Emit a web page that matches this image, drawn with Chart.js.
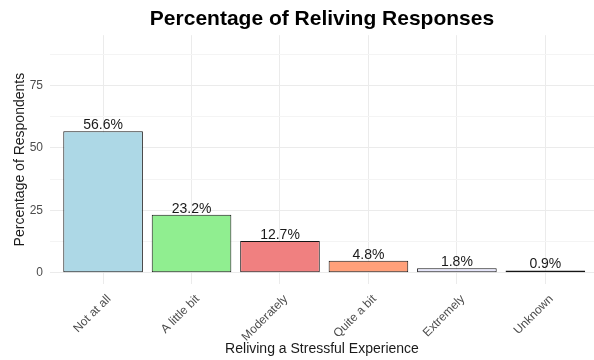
<!DOCTYPE html>
<html>
<head>
<meta charset="utf-8">
<script src="https://cdn.jsdelivr.net/npm/chart.js@4/dist/chart.umd.min.js"></script>
<style>
  html, body { margin: 0; padding: 0; background: #ffffff; }
  #wrap { width: 594px; height: 360px; position: relative; }
</style>
</head>
<body>
<div id="wrap"><canvas id="c"></canvas></div>
<script>
// Response categories and their share of respondents (%)
const categories = ["Not at all", "A little bit", "Moderately", "Quite a bit", "Extremely", "Unknown"];
const percentages = [56.6, 23.2, 12.7, 4.8, 1.8, 0.9];
const barColors = ["#ADD8E6", "#90EE90", "#F08080", "#FFA07A", "#E6E6FA", "#D3D3D3"];
const yTickValues = [0, 25, 50, 75];
const yGridValues = [0, 12.5, 25, 37.5, 50, 62.5, 75, 87.5];

const FONT = '"Liberation Sans", Arial, sans-serif';

// Upper limit is 1.6x the largest share, then padded by 5% on both ends
const yUpper = Math.max(...percentages) * 1.6;
const yPad = yUpper * 0.05;

// Percent label above each bar
const valueLabels = {
  id: 'valueLabels',
  afterDatasetsDraw(chart) {
    const { ctx } = chart;
    const meta = chart.getDatasetMeta(0);
    ctx.save();
    ctx.font = '14px ' + FONT;
    ctx.fillStyle = '#1a1a1a';
    ctx.textAlign = 'center';
    ctx.textBaseline = 'alphabetic';
    meta.data.forEach((bar, i) => {
      ctx.fillText(percentages[i].toFixed(1) + '%', bar.x, bar.y - 2);
    });
    ctx.restore();
  }
};

// Slant the category labels so their upper end hangs just right of the tick
const labelNudge = {
  id: 'labelNudge',
  beforeDraw(chart) {
    const items = chart.scales.x.getLabelItems(chart.chartArea);
    items.forEach(it => {
      if (!it._nudged) {
        it.options.translation[0] += 6;
        it._nudged = true;
      }
    });
  }
};

new Chart(document.getElementById('c'), {
  type: 'bar',
  data: {
    datasets: [{
      data: percentages.map((v, i) => ({ x: i, y: v })),
      backgroundColor: barColors,
      borderColor: '#151515',
      borderWidth: 1,
      borderSkipped: false,
      barPercentage: 0.9,
      categoryPercentage: 1.0
    }]
  },
  options: {
    responsive: true,
    maintainAspectRatio: false,
    animation: false,
    devicePixelRatio: 1,
    layout: { padding: { left: 0, right: 0, top: 0, bottom: 0 } },
    plugins: {
      legend: { display: false },
      tooltip: { enabled: false },
      title: {
        display: true,
        fullSize: false,
        text: 'Percentage of Reliving Responses',
        color: '#000000',
        font: { family: FONT, size: 21, weight: 'bold' },
        padding: { top: 7, bottom: 3 }
      }
    },
    scales: {
      x: {
        type: 'linear',
        offset: false,
        min: -0.6,
        max: 5.55,
        afterBuildTicks: axis => { axis.ticks = categories.map((_, i) => ({ value: i })); },
        afterFit: scale => { scale.height = 76; },
        border: { display: false },
        grid: { color: '#EBEBEB', lineWidth: 1, drawTicks: false, offset: false },
        ticks: {
          autoSkip: false,
          minRotation: 45,
          maxRotation: 45,
          padding: 8,
          color: '#4D4D4D',
          font: { family: FONT, size: 12 },
          callback: v => categories[v]
        },
        title: {
          display: true,
          text: 'Reliving a Stressful Experience',
          color: '#1a1a1a',
          font: { family: FONT, size: 14 },
          padding: { top: 0, bottom: 2 }
        }
      },
      y: {
        min: -yPad,
        max: yUpper + yPad,
        afterBuildTicks: axis => { axis.ticks = yGridValues.map(v => ({ value: v })); },
        afterFit: scale => { scale.width = 50; },
        border: { display: false },
        grid: {
          drawTicks: false,
          color: ctx => (ctx.tick && ctx.tick.value % 25 === 0) ? '#EBEBEB' : '#F4F4F4',
          lineWidth: 1
        },
        ticks: {
          autoSkip: false,
          padding: 7,
          color: '#4D4D4D',
          font: { family: FONT, size: 12 },
          callback: v => yTickValues.includes(v) ? String(v) : ''
        },
        title: {
          display: true,
          text: 'Percentage of Respondents',
          color: '#1a1a1a',
          font: { family: FONT, size: 14 },
          padding: { top: 12, bottom: 0 }
        }
      }
    }
  },
  plugins: [valueLabels, labelNudge]
});
</script>
</body>
</html>
